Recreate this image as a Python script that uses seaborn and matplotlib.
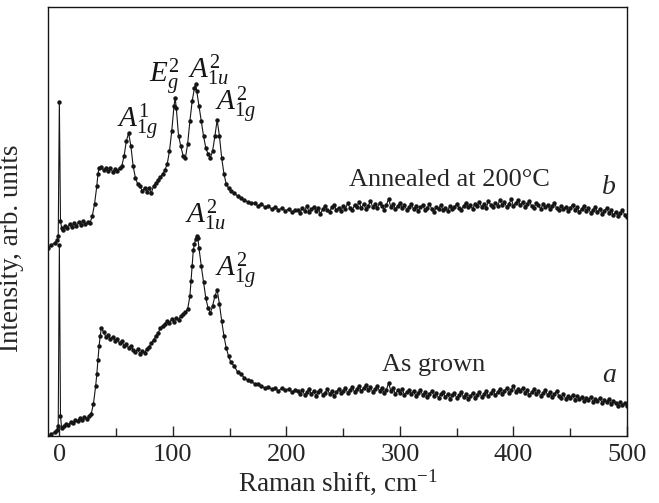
"""
Raman spectra of the film: as grown (a) and annealed at 200 C (b)
"""

import matplotlib
matplotlib.use("Agg")
import matplotlib.pyplot as plt
import pandas as pd
import seaborn as sns
from matplotlib.ticker import MultipleLocator

# low-frequency part, curve b: annealed at 200 C (intensity in arb. units)
shift_b_head = [
    -10, -7, -4, -2, -1, 0, 1, 2, 3, 5,
    7, 9, 11, 13, 15, 17, 19, 21, 23, 25,
    27, 29, 31, 33, 34, 35, 37, 39, 41, 43,
    45, 47, 49, 51, 53, 55, 57, 59, 61, 63,
    65, 67, 69, 71, 73, 75, 77, 79, 81, 83,
    85, 87, 89, 91, 93, 95, 97, 99, 101, 102,
    103, 105, 107, 109, 111, 113, 115, 117, 119, 120,
    121, 123, 125, 127, 129, 131, 133, 135, 137, 139,
    141, 143, 145, 147, 149, 151, 154, 157, 160, 163,
    166, 169, 172, 175, 178, 181, 184, 187, 190, 193,
    196, 199, 202, 205, 208,
]
intensity_b_head = [
    188, 191, 193, 196, 200, 334, 215, 208, 206, 210,
    208, 212, 209, 213, 210, 214, 211, 215, 212, 214,
    213, 220, 232, 250, 262, 268, 269, 266, 268, 265,
    268, 264, 267, 265, 268, 270, 280, 295, 303, 290,
    270, 258, 252, 250, 245, 248, 244, 248, 243, 250,
    253, 256, 259, 262, 266, 272, 285, 305, 330, 338,
    328, 300, 290, 280, 278, 292, 315, 335, 348, 352,
    345, 330, 315, 300, 288, 282, 278, 285, 300, 316,
    300, 278, 262, 252, 248, 245, 243, 240, 238, 236,
    234, 233, 233, 230, 232, 229, 230, 227, 229, 226,
    228, 225, 227, 224, 226,
]

# low-frequency part, curve a: as grown
shift_a_head = [
    -10, -7, -4, -2, -1, 0, 1, 2, 4, 6,
    8, 10, 12, 14, 16, 18, 20, 22, 24, 26,
    28, 30, 32, 33, 34, 35, 36, 37, 39, 41,
    43, 45, 47, 49, 51, 53, 55, 57, 59, 61,
    63, 65, 67, 69, 71, 73, 75, 77, 79, 81,
    83, 85, 87, 89, 91, 93, 95, 97, 99, 101,
    103, 105, 107, 109, 111, 113, 115, 116, 117, 118,
    119, 120, 121, 122, 123, 125, 127, 129, 131, 133,
    135, 137, 139, 141, 143, 145, 147, 149, 151, 154,
    157, 160, 163, 166, 169, 172, 175, 178, 181, 184,
    187, 190, 193, 196, 199, 202, 205, 208,
]
intensity_a_head = [
    0, 2, 4, 6, 10, 191, 20, 8, 10, 12,
    11, 14, 13, 16, 15, 18, 16, 19, 17, 20,
    22, 32, 50, 62, 76, 90, 100, 108, 104, 99,
    101, 97, 99, 95, 97, 93, 95, 90, 92, 88,
    90, 86, 84, 87, 82, 85, 83, 87, 89, 93,
    96, 100, 103, 108, 110, 112, 115, 113, 117, 114,
    118, 116, 120, 122, 124, 127, 140, 155, 170, 186,
    192, 197, 200, 198, 188, 170, 154, 138, 128, 123,
    130, 140, 146, 132, 115, 100, 88, 80, 74, 70,
    64, 62, 58, 56, 55, 52, 52, 50, 48, 49,
    47, 48, 45, 48, 46, 47, 44, 46,
]

# high-frequency part (same grid for both curves)
shift_tail = [
    210, 212, 214, 216, 218, 220, 222, 224, 226, 228,
    230, 232, 234, 236, 238, 240, 242, 244, 246, 248,
    250, 252, 254, 256, 258, 260, 262, 264, 266, 268,
    270, 272, 274, 276, 278, 280, 282, 284, 286, 288,
    290, 292, 294, 296, 298, 300, 302, 304, 306, 308,
    310, 312, 314, 316, 318, 320, 322, 324, 326, 328,
    330, 332, 334, 336, 338, 340, 342, 344, 346, 348,
    350, 352, 354, 356, 358, 360, 362, 364, 366, 368,
    370, 372, 374, 376, 378, 380, 382, 384, 386, 388,
    390, 392, 394, 396, 398, 400, 402, 404, 406, 408,
    410, 412, 414, 416, 418, 420, 422, 424, 426, 428,
    430, 432, 434, 436, 438, 440, 442, 444, 446, 448,
    450, 452, 454, 456, 458, 460, 462, 464, 466, 468,
    470, 472, 474, 476, 478, 480, 482, 484, 486, 488,
    490, 492, 494, 496, 498, 500,
]
intensity_b_tail = [
    226, 223, 228, 225, 230, 224, 227, 229, 225, 228,
    222, 227, 230, 226, 224, 229, 231, 226, 228, 225,
    230, 227, 233, 228, 226, 231, 229, 234, 228, 232,
    227, 230, 235, 229, 232, 228, 233, 230, 226, 231,
    237, 229, 232, 227, 230, 233, 228, 231, 226, 229,
    232, 227, 230, 225, 229, 231, 226, 228, 232, 227,
    224, 229, 227, 231, 226, 228, 225, 230, 227, 229,
    232, 228, 226, 230, 233, 229, 231, 227, 232, 230,
    234, 229, 232, 228, 235, 231, 229, 233, 230, 236,
    231, 234, 229, 232, 237, 230, 233, 236, 231, 234,
    229, 232, 235, 230, 228, 233, 231, 227, 232, 229,
    231, 227, 230, 233, 228, 226, 230, 227, 229, 225,
    228, 231, 226, 229, 224, 227, 230, 225, 228, 223,
    226, 229, 224, 227, 222, 225, 228, 223, 226, 221,
    224, 220, 223, 226, 221, 219,
]
intensity_a_tail = [
    45, 42, 46, 41, 44, 47, 42, 45, 40, 44,
    46, 41, 43, 47, 42, 45, 40, 44, 47, 43,
    45, 48, 43, 46, 49, 44, 47, 50, 45, 48,
    51, 46, 49, 44, 47, 50, 45, 48, 43, 46,
    53, 45, 48, 42, 46, 43, 47, 41, 44, 46,
    42, 45, 40, 43, 46, 41, 44, 39, 42, 45,
    40, 43, 38, 42, 44, 39, 42, 37, 41, 43,
    38, 41, 44, 39, 42, 37, 40, 43, 38, 41,
    44, 39, 42, 45, 40, 43, 46, 41, 44, 47,
    42, 45, 48, 43, 46, 50, 44, 47, 45, 48,
    43, 46, 41, 44, 47, 42, 45, 40, 43, 46,
    41, 44, 39, 42, 45, 40, 38, 42, 37, 40,
    38, 41, 36, 40, 37, 39, 35, 38, 36, 39,
    34, 37, 35, 38, 33, 36, 34, 37, 32, 35,
    33, 30, 34, 31, 33, 30,
]

# phonon mode labels
mode_labels = [r"$A_{1g}^{1}$", r"$E_{g}^{2}$", r"$A_{1u}^{2}$", r"$A_{1g}^{2}$",
               r"$A_{1u}^{2}$", r"$A_{1g}^{2}$"]
mode_x = [69, 93, 131, 155, 129, 155]
mode_y = [314, 359, 366, 331, 221, 165]

x_ticks = [0, 100, 200, 300, 400, 500]


def main():
    sns.set_style("ticks")
    plt.rcParams["font.family"] = ["Liberation Serif", "DejaVu Serif"]
    plt.rcParams["mathtext.fontset"] = "custom"
    plt.rcParams["mathtext.rm"] = "Liberation Serif"
    plt.rcParams["mathtext.it"] = "Liberation Serif:italic"
    plt.rcParams["mathtext.bf"] = "Liberation Serif:bold"

    df_a = pd.DataFrame({"shift": shift_a_head + shift_tail,
                         "intensity": intensity_a_head + intensity_a_tail})
    df_b = pd.DataFrame({"shift": shift_b_head + shift_tail,
                         "intensity": intensity_b_head + intensity_b_tail})

    fig = plt.figure(figsize=(6.59, 5.03), dpi=100)
    ax = fig.add_axes([48 / 659, 67 / 503, 579 / 659, 429 / 503])

    for df in (df_a, df_b):
        sns.lineplot(
            data=df, x="shift", y="intensity", ax=ax, color="#151515",
            linewidth=0.8, marker="o", markersize=3.2, markeredgewidth=0,
            estimator=None, sort=False,
        )

    for text, xv, yv in zip(mode_labels, mode_x, mode_y):
        ax.text(xv, yv, text, fontsize=21, ha="center", va="center", color="#151515")

    ax.text(344, 256, "Annealed at 200°C", fontsize=19, ha="center", va="center")
    ax.text(484, 249, "b", fontsize=20, style="italic", ha="center", va="center")
    ax.text(330, 71, "As grown", fontsize=19, ha="center", va="center")
    ax.text(484, 61, "a", fontsize=20, style="italic", ha="center", va="center")

    ax.set_xlim(-10, 500)
    ax.set_ylim(0, 429)
    ax.set_xticks(x_ticks)
    ax.xaxis.set_minor_locator(MultipleLocator(50))
    ax.set_yticks([])
    ax.tick_params(axis="x", which="major", direction="in", length=7, width=1,
                   labelsize=19, pad=6)
    ax.tick_params(axis="x", which="minor", direction="in", length=5.5, width=1)
    for side in ["top", "right", "left", "bottom"]:
        ax.spines[side].set_visible(True)
        ax.spines[side].set_linewidth(1.0)
        ax.spines[side].set_color("#151515")

    ax.set_xlabel(r"Raman shift, cm$^{-1}$", fontsize=19.5, labelpad=1)
    ax.set_ylabel("Intensity, arb. units", fontsize=19.5)
    ax.yaxis.set_label_coords(-0.041, 0.438)

    fig.savefig("out.png", dpi=100)


if __name__ == "__main__":
    main()
